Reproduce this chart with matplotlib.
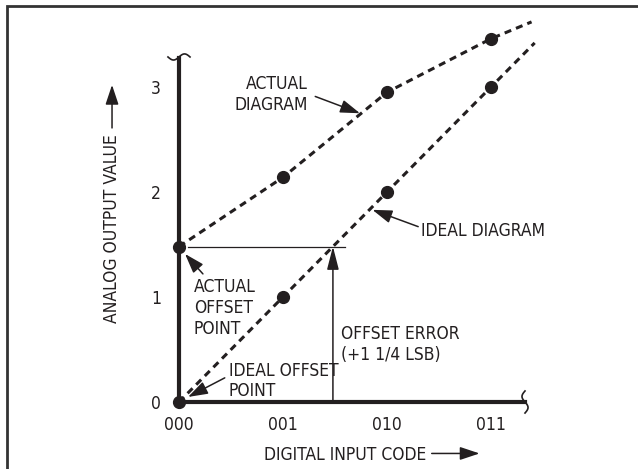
import numpy as np
import matplotlib.pyplot as plt

# codes on the x axis and output values on the y axis
codes = ['000', '001', '010', '011']
code_pos = [0, 1, 2, 3]
values = [0, 1, 2, 3]

# ideal transfer function (dots and dashed line)
ideal_x = [0, 1, 2, 3]
ideal_y = [0, 1, 2, 3]
ideal_line_x = [0, 3.42]
ideal_line_y = [0, 3.42]

# actual transfer function (dots and dashed line)
actual_x = [0, 1, 2, 3]
actual_y = [1.48, 2.14, 2.95, 3.46]
actual_line_x = [0, 1, 2, 3, 3.39]
actual_line_y = [1.48, 2.14, 2.95, 3.46, 3.62]

offset = actual_y[0]

ink = '#231f20'
plt.rcParams['font.family'] = ['DejaVu Sans']
plt.rcParams['font.stretch'] = 'condensed'

fig = plt.figure(figsize=(6.38, 4.69), dpi=100)
ax = fig.add_axes([0, 0, 1, 1])
ax.set_xlim(-179 / 104, 459 / 104)
ax.set_ylim(-67 / 105, 402 / 105)

# axes lines
for s in ['top', 'right']:
    ax.spines[s].set_visible(False)
ax.spines['left'].set_position(('data', 0))
ax.spines['bottom'].set_position(('data', 0))
ax.spines['left'].set_bounds(0, 3.28)
ax.spines['bottom'].set_bounds(0, 3.33)
for s in ['left', 'bottom']:
    ax.spines[s].set_linewidth(3)
    ax.spines[s].set_color(ink)

fs = 12.5
ax.set_xticks(code_pos, codes)
ax.set_yticks(values, [str(v) for v in values])
ax.tick_params(axis='x', length=0, labelsize=fs, colors=ink, pad=10)
ax.tick_params(axis='y', length=0, labelsize=fs, colors=ink, pad=13)
ax.patch.set_alpha(0)

# break marks at the ends of the axes
t = np.linspace(-1, 1, 40)
ax.plot(0 + 0.106 * t, 3.286 + 0.029 * np.sin(np.pi * t), color=ink, lw=1.2)
ax.plot(3.327 - 0.029 * np.sin(np.pi * t), 0.0 + 0.105 * t, color=ink, lw=1.2)

# dashed diagrams
dash = (0, (2.3, 1.7))
ax.plot(ideal_line_x, ideal_line_y, color=ink, lw=2.2, ls=dash)
ax.plot(actual_line_x, actual_line_y, color=ink, lw=2.2, ls=dash)
ax.plot(ideal_x, ideal_y, 'o', color=ink, ms=8.5)
ax.plot(actual_x, actual_y, 'o', color=ink, ms=8.5)

# offset level and offset error arrow
ax.plot([0.087, 1.6], [offset, offset], color=ink, lw=0.9)
ax.annotate('', xy=(offset, offset), xytext=(offset, 0),
            arrowprops=dict(arrowstyle='-|>,head_length=0.7,head_width=0.18',
                            mutation_scale=20, lw=1.1, color=ink,
                            shrinkA=0, shrinkB=0))

arrow = dict(arrowstyle='-|>,head_length=0.6,head_width=0.2',
             mutation_scale=20, lw=1.1, color=ink, shrinkA=0, shrinkB=0)
ls = 1.2

ax.text(1.24, 2.93, 'ACTUAL\nDIAGRAM', ha='right', va='center',
        fontsize=fs, color=ink, linespacing=ls)
ax.annotate('', xy=(1.74, 2.75), xytext=(1.31, 2.91), arrowprops=arrow)

ax.text(2.33, 1.63, 'IDEAL DIAGRAM', ha='left', va='center',
        fontsize=fs, color=ink)
ax.annotate('', xy=(1.86, 1.83), xytext=(2.30, 1.67), arrowprops=arrow)

ax.text(0.144, 0.895, 'ACTUAL\nOFFSET\nPOINT', ha='left', va='center',
        fontsize=fs, color=ink, linespacing=ls)
ax.annotate('', xy=(0.058, 1.41), xytext=(0.23, 1.22), arrowprops=arrow)

ax.text(0.48, 0.20, 'IDEAL OFFSET\nPOINT', ha='left', va='center',
        fontsize=fs, color=ink, linespacing=ls)
ax.annotate('', xy=(0.087, 0.048), xytext=(0.44, 0.23), arrowprops=arrow)

ax.text(1.56, 0.55, 'OFFSET ERROR\n(+1 1/4 LSB)', ha='left', va='center',
        fontsize=fs, color=ink, linespacing=ls)

# axis titles with arrows
ax.text(-0.644, 1.65, 'ANALOG OUTPUT VALUE', rotation=90, ha='center',
        va='center', fontsize=fs, color=ink)
ax.annotate('', xy=(-0.644, 3.02), xytext=(-0.644, 2.61), arrowprops=arrow)
ax.text(1.60, -0.50, 'DIGITAL INPUT CODE', ha='center', va='center',
        fontsize=fs, color=ink)
ax.annotate('', xy=(2.89, -0.49), xytext=(2.43, -0.49), arrowprops=arrow)

# outer frame (left and top edges)
ax.plot([6.5 / 638, 6.5 / 638, 1.0], [0.0, 1 - 6.5 / 469, 1 - 6.5 / 469],
        transform=ax.transAxes, color='#333333', lw=2, clip_on=False,
        solid_joinstyle='miter')

fig.savefig('out.png', dpi=100)
